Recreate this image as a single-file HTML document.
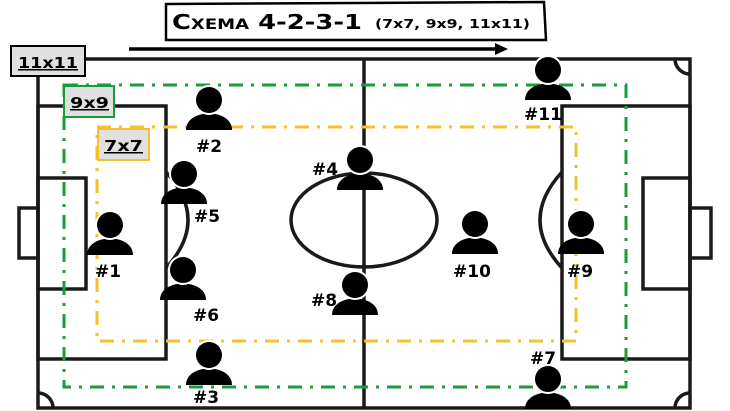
<!DOCTYPE html>
<html><head><meta charset="utf-8"><style>
html,body{margin:0;padding:0;background:#fff;}
svg{display:block;}
text{font-family:"DejaVu Sans","Liberation Sans",sans-serif;font-weight:bold;fill:#000;}
</style></head><body>
<svg width="730" height="411" viewBox="0 0 730 411" xmlns="http://www.w3.org/2000/svg">
<defs>
<g id="p">
<path d="M-23,30 C-23,8 23,8 23,30 Z" fill="#000"/>
<circle cx="0" cy="0" r="15" fill="#fff"/>
<circle cx="0" cy="0" r="13" fill="#000"/>
</g>
</defs>
<g fill="none" stroke="#1a1a1a" stroke-width="3.5">
<rect x="38" y="59" width="652" height="349"/>
<line x1="364" y1="59" x2="364" y2="408"/>
<ellipse cx="364" cy="220" rx="73" ry="47"/>
<rect x="38" y="106" width="128" height="253"/>
<rect x="38" y="178" width="48" height="111"/>
<rect x="19" y="208" width="19" height="50"/>
<rect x="562" y="106" width="128" height="253"/>
<rect x="643" y="178" width="47" height="111"/>
<rect x="690" y="208" width="21" height="50"/>
<path d="M166,172 Q210,220 166,268"/>
<path d="M562,172 Q518,220 562,268"/>
<path d="M675,59 A15,15 0 0 0 690,74"/>
<path d="M690,393 A15,15 0 0 0 675,408"/>
<path d="M38,393 A15,15 0 0 1 53,408"/>
</g>
<rect x="64" y="85" width="562" height="302" fill="none" stroke="#1c9a3e" stroke-width="3" stroke-dasharray="14,8,3,8"/>
<rect x="97" y="127" width="479" height="214" fill="none" stroke="#f5c02a" stroke-width="3" stroke-dasharray="14,8,3,8"/>
<path d="M166,4 L544,2 L546,40 L166,40 Z" fill="#fff" stroke="#000" stroke-width="2.5"/>
<text x="172" y="29" font-size="20" textLength="190" lengthAdjust="spacingAndGlyphs" style="font-variant:small-caps">Схема 4-2-3-1</text>
<text x="375" y="28" font-size="12" textLength="155" lengthAdjust="spacingAndGlyphs">(7x7, 9x9, 11x11)</text>
<line x1="129" y1="49" x2="497" y2="49" stroke="#000" stroke-width="3.5"/>
<polygon points="495,43 508,49 495,55" fill="#000"/>
<rect x="11" y="46" width="74" height="30" fill="#e0e0e0" stroke="#000" stroke-width="2"/>
<text x="18" y="68" font-size="15" textLength="60" lengthAdjust="spacingAndGlyphs" text-decoration="underline">11x11</text>
<rect x="64" y="86" width="50" height="31" fill="#e0e0e0" stroke="#1c9a3e" stroke-width="2"/>
<text x="70" y="108" font-size="15" textLength="39" lengthAdjust="spacingAndGlyphs" text-decoration="underline">9x9</text>
<rect x="98" y="129" width="51" height="31" fill="#e0e0e0" stroke="#f5c02a" stroke-width="2"/>
<text x="104" y="151" font-size="15" textLength="39" lengthAdjust="spacingAndGlyphs" text-decoration="underline">7x7</text>
<g font-size="17">
<use href="#p" x="209" y="100"/><text x="196" y="152">#2</text>
<use href="#p" x="548" y="70"/><text x="524" y="120">#11</text>
<use href="#p" x="184" y="174"/><text x="194" y="222">#5</text>
<use href="#p" x="110" y="225"/><text x="95" y="277">#1</text>
<use href="#p" x="183" y="270"/><text x="193" y="321">#6</text>
<use href="#p" x="360" y="160"/><text x="312" y="175">#4</text>
<use href="#p" x="355" y="285"/><text x="311" y="306">#8</text>
<use href="#p" x="209" y="355"/><text x="193" y="403">#3</text>
<use href="#p" x="475" y="224"/><text x="453" y="277">#10</text>
<use href="#p" x="581" y="224"/><text x="567" y="277">#9</text>
<use href="#p" x="548" y="379"/><text x="530" y="364">#7</text>
</g>
</svg>
</body></html>
